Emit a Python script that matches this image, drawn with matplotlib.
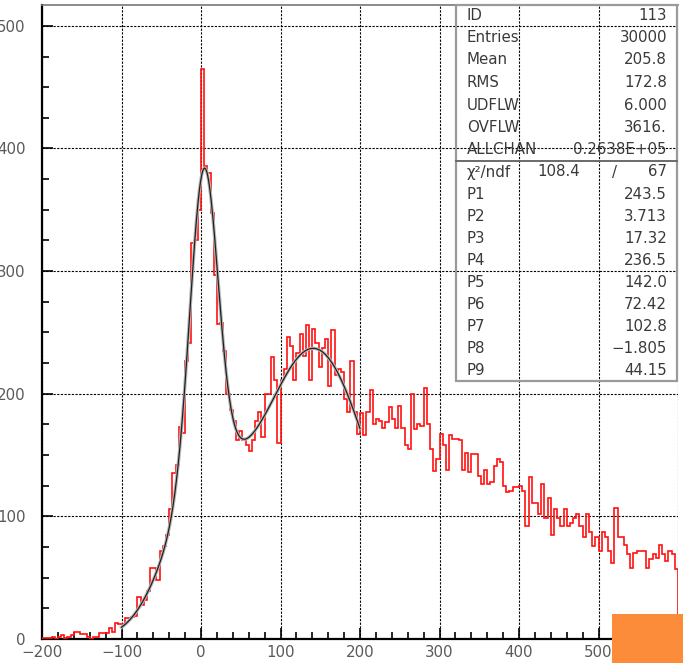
"""PAW-style histogram ID 113 with a three-gaussian fit and the stats box."""
from __future__ import annotations

import matplotlib

matplotlib.use("Agg")
import matplotlib.pyplot as plt
import numpy as np
from matplotlib.patches import Rectangle
from matplotlib.ticker import MultipleLocator

W, H = 683, 663

# histogram: 200 bins of width 4 from -200 to 600
X_LO, BIN_W = -200, 4
COUNTS = [
    # -200 .. -104
    1, 1, 1, 2, 0, 2, 3, 1, 2, 3, 6, 6, 4, 4, 2, 0, 2, 2, 5, 5, 5, 9, 6, 13, 12,
    # -100 .. -4
    12, 17, 17, 18, 19, 34, 28, 32, 39, 58, 58, 48, 72, 76, 85, 106, 135, 142,
    173, 168, 227, 241, 323, 325, 350,
    # 0 .. 96
    465, 386, 380, 347, 297, 257, 258, 235, 200, 187, 178, 162, 170, 162, 158,
    153, 162, 178, 185, 165, 200, 200, 230, 211, 160,
    # 100 .. 196
    211, 220, 246, 239, 211, 233, 249, 231, 256, 211, 253, 241, 222, 237, 245,
    206, 252, 215, 220, 218, 196, 185, 227, 185, 167,
    # 200 .. 296
    184, 166, 185, 203, 175, 179, 178, 172, 177, 189, 179, 172, 190, 172, 158,
    155, 200, 171, 175, 174, 205, 175, 155, 137, 147,
    # 300 .. 396
    167, 158, 138, 166, 163, 163, 162, 138, 152, 136, 151, 151, 133, 126, 138,
    126, 128, 141, 147, 144, 125, 120, 121, 124, 124,
    # 400 .. 496
    125, 121, 92, 132, 111, 111, 102, 126, 99, 115, 85, 106, 99, 92, 106, 92,
    95, 99, 102, 92, 83, 102, 87, 76, 83,
    # 500 .. 596
    72, 87, 83, 72, 62, 107, 83, 83, 77, 69, 58, 70, 72, 72, 72, 58, 65, 69,
    66, 77, 69, 64, 72, 69, 57,
]

# fit parameters as printed in the box (three gaussians: amp, mean, sigma)
FIT_PARS = [243.5, 3.713, 17.32, 236.5, 142.0, 72.42, 102.8, -1.805, 44.15]
FIT_RANGE = (-100, 200)

STAT_LABELS = ["ID", "Entries", "Mean", "RMS", "UDFLW", "OVFLW", "ALLCHAN"]
STAT_VALUES = ["113", "30000", "205.8", "172.8", "6.000", "3616.", "0.2638E+05"]
CHI2, NDF = "108.4", "67"
PAR_LABELS = ["P1", "P2", "P3", "P4", "P5", "P6", "P7", "P8", "P9"]
PAR_VALUES = ["243.5", "3.713", "17.32", "236.5", "142.0", "72.42", "102.8",
              "\u22121.805", "44.15"]

TXT = "#3a3a3a"
BOX = "#9a9a9a"


def fit_func(x, p):
    y = np.zeros_like(x)
    for a, m, s in zip(p[0::3], p[1::3], p[2::3]):
        y += a * np.exp(-0.5 * ((x - m) / s) ** 2)
    return y


def px(x, y):
    """pixel position (from top-left) -> figure fraction"""
    return x / W, 1 - y / H


def main():
    plt.rcParams["font.family"] = ["DejaVu Sans"]
    fig = plt.figure(figsize=(W / 100, H / 100), dpi=100)
    l, b = px(42, 639)
    r, t = px(678, 5)
    ax = fig.add_axes([l, b, r - l, t - b])

    edges = X_LO + BIN_W * np.arange(len(COUNTS) + 1)
    ax.stairs(COUNTS, edges, color="#ff1010", lw=1.2, zorder=3)

    xf = np.linspace(*FIT_RANGE, 400)
    ax.plot(xf, fit_func(xf, FIT_PARS), color="#b8b8b8", lw=2.4, zorder=4)
    ax.plot(xf, fit_func(xf, FIT_PARS), color="#202020", lw=0.9, zorder=5)

    ax.set_xlim(-200, 600)
    ax.set_ylim(0, 517)
    ax.xaxis.set_major_locator(MultipleLocator(100))
    ax.xaxis.set_minor_locator(MultipleLocator(20))
    ax.yaxis.set_major_locator(MultipleLocator(100))
    ax.yaxis.set_minor_locator(MultipleLocator(25))
    ax.tick_params(which="both", direction="in", colors="black", width=1.2,
                   labelcolor="#5a5a5a", labelsize=10.8)
    ax.tick_params(which="major", length=8)
    ax.tick_params(which="minor", length=5)
    ax.tick_params(axis="y", pad=12)
    ax.tick_params(axis="x", pad=4)
    ax.grid(True, which="major", color="black", lw=0.8,
            linestyle=(0, (2, 1.3)), zorder=1)
    for side in ("left", "bottom"):
        ax.spines[side].set_linewidth(1.6)
    ax.spines["top"].set_color("#777777")
    ax.spines["top"].set_linewidth(1.2)
    ax.spines["right"].set_visible(False)

    # stats box (transparent, grid shows through)
    x0, x1, y0, y1, ysep = 456, 677, 5, 381, 161
    fx0, fy1 = px(x0, y1)
    fx1, fy0 = px(x1, y0)
    fig.add_artist(Rectangle((fx0, fy1), fx1 - fx0, fy0 - fy1, fill=False,
                             ec=BOX, lw=1.6, transform=fig.transFigure))
    sx0, sy = px(x0, ysep)
    sx1, _ = px(x1, ysep)
    fig.add_artist(plt.Line2D([sx0, sx1], [sy, sy], color="#6a6a6a", lw=1.4,
                              transform=fig.transFigure))

    kw = dict(fontsize=10.8, color=TXT, va="center")
    for i, (lab, val) in enumerate(zip(STAT_LABELS, STAT_VALUES)):
        y = 15 + 22.5 * i
        fig.text(*px(467, y), lab, ha="left", **kw)
        fig.text(*px(667, y), val, ha="right", **kw)

    y = 172
    fig.text(*px(467, y), "\u03c7\u00b2/ndf", ha="left", **kw)
    fig.text(*px(580, y), CHI2, ha="right", **kw)
    fig.text(*px(615, y), "/", ha="center", **kw)
    fig.text(*px(667, y), NDF, ha="right", **kw)
    for i, (lab, val) in enumerate(zip(PAR_LABELS, PAR_VALUES)):
        y = 194 + 22.1 * i
        fig.text(*px(467, y), lab, ha="left", **kw)
        fig.text(*px(667, y), val, ha="right", **kw)

    # orange patch in the lower right corner
    ox, oy = px(612, H)
    ox1, oy1 = px(W, 614)
    fig.add_artist(Rectangle((ox, oy), ox1 - ox, oy1 - oy, color="#fd8c3a",
                             lw=0, transform=fig.transFigure, zorder=10))

    fig.savefig("out.png", dpi=100)
    plt.close(fig)


if __name__ == "__main__":
    main()
